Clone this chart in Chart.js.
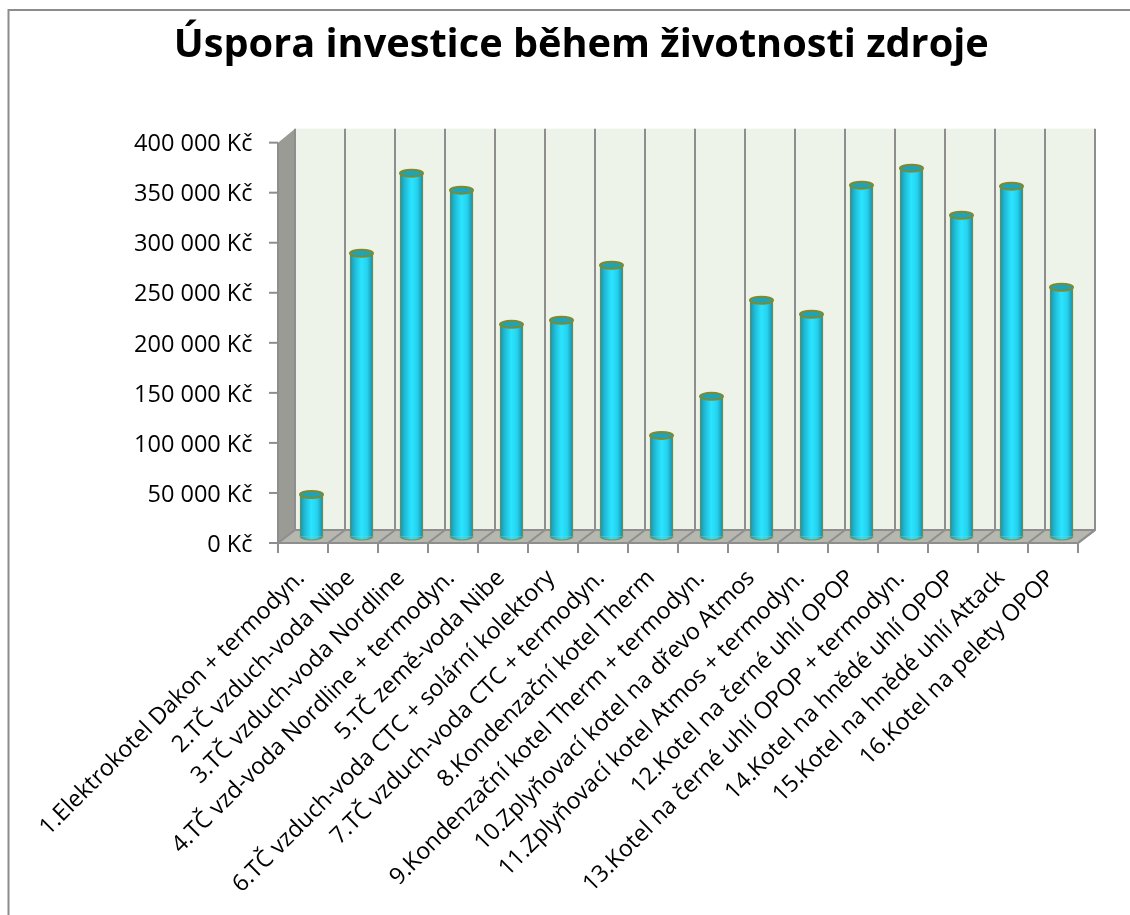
<!DOCTYPE html>
<html>
<head>
<meta charset="utf-8">
<title>Úspora investice během životnosti zdroje</title>
<script src="https://cdn.jsdelivr.net/npm/chart.js@4/dist/chart.umd.min.js"></script>
<style>
  html, body { margin: 0; padding: 0; background: #fff; }
  canvas { display: block; }
</style>
</head>
<body>
<canvas id="savingsChart" width="1130" height="915"></canvas>
<script>
var categories = [
  "1.Elektrokotel Dakon + termodyn.",
  "2.TČ vzduch-voda Nibe",
  "3.TČ vzduch-voda Nordline",
  "4.TČ vzd-voda Nordline + termodyn.",
  "5.TČ země-voda Nibe",
  "6.TČ vzduch-voda CTC + solární kolektory",
  "7.TČ vzduch-voda CTC + termodyn.",
  "8.Kondenzační kotel Therm",
  "9.Kondenzační kotel Therm + termodyn.",
  "10.Zplyňovací kotel na dřevo Atmos",
  "11.Zplyňovací kotel Atmos + termodyn.",
  "12.Kotel na černé uhlí OPOP",
  "13.Kotel na černé uhlí OPOP + termodyn.",
  "14.Kotel na hnědé uhlí OPOP",
  "15.Kotel na hnědé uhlí Attack",
  "16.Kotel na pelety OPOP"
];
var savings = [42000, 283000, 363000, 346000, 212000, 216000, 271000, 101000,
               140000, 236000, 222000, 351000, 368000, 321000, 350000, 249000];
var chartTitle = "Úspora investice během životnosti zdroje";

var fontName = "'Open Sans', Lato, sans-serif";
// depth of the fake 3D box, measured from the plane the columns stand on
var depthX = 8.5;
var depthY = 6.5;
var barWidth = 23;

function barGradient(ctx, x) {
  if (!isFinite(x)) return '#2be4ff';
  var g = ctx.createLinearGradient(x - barWidth / 2, 0, x + barWidth / 2, 0);
  g.addColorStop(0, '#1b8fa6');
  g.addColorStop(0.18, '#1fb6d2');
  g.addColorStop(0.5, '#2be4ff');
  g.addColorStop(0.75, '#25d2ee');
  g.addColorStop(1, '#178ba3');
  return g;
}

var boxPlugin = {
  id: 'box3d',
  beforeDraw: function (chart) {
    var c = chart.ctx;
    c.save();
    c.strokeStyle = '#8c8c8c';
    c.lineWidth = 2;
    c.beginPath();
    c.moveTo(8.5, 915);
    c.lineTo(8.5, 10);
    c.lineTo(1130, 10);
    c.stroke();
    c.restore();
  },
  beforeDatasetsDraw: function (chart) {
    var c = chart.ctx, a = chart.chartArea, xs = chart.scales.x, ys = chart.scales.y;
    var left = a.left, right = a.right, top = ys.getPixelForValue(400000), bot = ys.getPixelForValue(0);
    var slot = (right - left) / categories.length;
    c.save();
    // back wall
    c.fillStyle = '#eef3e9';
    c.fillRect(left + depthX, top - depthY - 1, right - left, bot - top + 1);
    // side wall
    c.fillStyle = '#9a9b94';
    c.beginPath();
    c.moveTo(left - depthX, top + depthY);
    c.lineTo(left + depthX, top - depthY - 1);
    c.lineTo(left + depthX, bot - depthY);
    c.lineTo(left - depthX, bot + depthY);
    c.closePath();
    c.fill();
    // floor
    c.fillStyle = '#b6b7af';
    c.beginPath();
    c.moveTo(left - depthX, bot + depthY);
    c.lineTo(left + depthX, bot - depthY);
    c.lineTo(right + depthX, bot - depthY);
    c.lineTo(right - depthX, bot + depthY);
    c.closePath();
    c.fill();
    // vertical grid on the wall and across the floor, ticks under the front edge
    c.lineWidth = 2;
    c.strokeStyle = '#8e8e8e';
    for (var i = 0; i <= categories.length; i++) {
      var x = i < categories.length ? xs.getPixelForTick(i) - slot / 2 : xs.getPixelForTick(i - 1) + slot / 2;
      c.beginPath();
      c.moveTo(x + depthX, top - depthY - 1);
      c.lineTo(x + depthX, bot - depthY);
      c.lineTo(x - depthX, bot + depthY);
      c.lineTo(x - depthX, bot + depthY + 10);
      c.stroke();
    }
    // y ticks on the front edge and the outline of the floor
    ys.ticks.forEach(function (t) {
      var y = ys.getPixelForValue(t.value) + depthY;
      c.beginPath();
      c.moveTo(left - depthX - 9, y);
      c.lineTo(left - depthX, y);
      c.stroke();
    });
    c.beginPath();
    c.moveTo(left - depthX, top + depthY);
    c.lineTo(left - depthX, bot + depthY);
    c.lineTo(right - depthX, bot + depthY);
    c.lineTo(right + depthX, bot - depthY);
    c.moveTo(left + depthX, bot - depthY);
    c.lineTo(right + depthX, bot - depthY);
    c.stroke();
    c.restore();
  },
  afterDatasetsDraw: function (chart) {
    var c = chart.ctx;
    c.save();
    chart.getDatasetMeta(0).data.forEach(function (bar) {
      var rx = barWidth / 2, ry = 3.5;
      // rounded foot
      c.fillStyle = barGradient(c, bar.x);
      c.strokeStyle = '#7f8f3c';
      c.lineWidth = 1;
      c.beginPath();
      c.ellipse(bar.x, bar.base, rx, ry, 0, 0, Math.PI);
      c.fill();
      c.stroke();
      // cap
      c.fillStyle = '#1fa3b8';
      c.strokeStyle = '#7f8a2c';
      c.lineWidth = 2;
      c.beginPath();
      c.ellipse(bar.x, bar.y, rx, ry, 0, 0, Math.PI * 2);
      c.fill();
      c.stroke();
    });
    c.restore();
  }
};

new Chart(document.getElementById('savingsChart').getContext('2d'), {
  type: 'bar',
  plugins: [boxPlugin],
  data: {
    labels: categories,
    datasets: [{
      data: savings,
      barThickness: barWidth,
      backgroundColor: function (context) {
        var xs = context.chart.scales.x;
        if (!xs || context.dataIndex === undefined) return '#2be4ff';
        return barGradient(context.chart.ctx, xs.getPixelForValue(context.dataIndex));
      },
      borderColor: '#7f8f3c',
      borderWidth: { left: 1, right: 1, top: 0, bottom: 0 },
      borderSkipped: false
    }]
  },
  options: {
    responsive: false,
    animation: false,
    // left padding also moves the centred title over to where it sits in the original
    layout: { padding: { top: 0, left: 76, right: 43.5, bottom: 0 } },
    plugins: {
      legend: { display: false },
      tooltip: { enabled: false },
      title: {
        display: true,
        text: chartTitle,
        color: '#000',
        font: { family: fontName, size: 39.7, weight: 'bold' },
        padding: { top: 22, bottom: 66.5 }
      }
    },
    scales: {
      x: {
        grid: { display: false, drawTicks: false },
        border: { display: false },
        afterFit: function (scale) { scale.height = 915 - 536.5; },
        ticks: {
          autoSkip: false,
          minRotation: 45,
          maxRotation: 45,
          color: '#000',
          padding: 28,
          labelOffset: -10.5,
          font: { family: fontName, size: 23.3 }
        }
      },
      y: {
        min: 0,
        max: 400000,
        grid: { display: false, drawTicks: false },
        border: { display: false },
        afterFit: function (scale) { scale.width = 210.5; },
        ticks: {
          stepSize: 50000,
          color: '#000',
          padding: 34,
          labelOffset: 8.5,
          font: { family: fontName, size: 23.5 },
          callback: function (v) {
            return String(v).replace(/\B(?=(\d{3})+$)/g, ' ') + ' Kč';
          }
        }
      }
    }
  }
});
</script>
</body>
</html>
